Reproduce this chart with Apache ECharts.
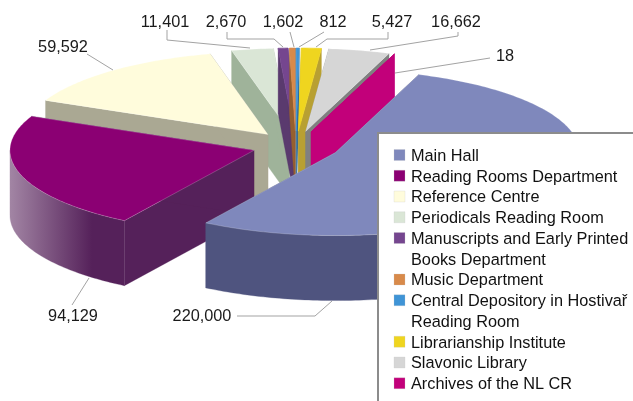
<!DOCTYPE html>
<html>
<head>
<meta charset="utf-8">
<style>html,body{margin:0;padding:0;background:#fff}#main{width:633px;height:401px}</style>
<script src="https://cdn.jsdelivr.net/npm/echarts@6/dist/echarts.min.js"></script>
</head>
<body>
<div id="main"></div>
<script>
// data
const departments = ['Main Hall', 'Reading Rooms Department', 'Reference Centre', 'Periodicals Reading Room',
  'Manuscripts and Early Printed\nBooks Department', 'Music Department', 'Central Depository in Hostivař\nReading Room',
  'Librarianship Institute', 'Slavonic Library', 'Archives of the NL CR'];
const visitors = [220000, 94129, 59592, 11401, 2670, 1602, 812, 5427, 16662, 18];
const topColors = ['#7f88bc', '#8b0073', '#fffcdc', '#dae6d6', '#75468f', '#d88a4a', '#3f94d6', '#efd51f', '#d6d6d6', '#c2007a'];
const wallColors = ['#4f547f', '#55215a', '#aaa893', '#9fb39a', '#5a3a6e', '#96602f', '#2f6a9a', '#b8a032', '#808080', '#c2007a'];
// back to front
const sliceZ = [16, 14, 12, 5, 6, 7, 8, 9, 10, 11];

// pie geometry
const cx = 296, cy = 146, rx = 244, ry = 83, depth = 65, explode = 0.18, startAngle = 20;
const total = visitors.reduce((a, b) => a + b, 0);

var chart = echarts.init(document.getElementById('main'), null, { renderer: 'canvas' });

function rimPoint(a, ox, oy, dy) {
  const r = a * Math.PI / 180;
  return [ox + rx * Math.sin(r), oy - ry * Math.cos(r) + dy];
}

function arcAngles(a0, a1) {
  const out = [];
  const steps = Math.max(2, Math.ceil(a1 - a0));
  for (let s = 0; s <= steps; s++) out.push(a0 + (a1 - a0) * s / steps);
  return out;
}

function lighten(hex) {
  const c = echarts.color.parse(hex);
  return 'rgb(' + [0, 1, 2].map(i => Math.round(c[i] + (255 - c[i]) * 0.45)).join(',') + ')';
}

// one exploded 3d slice: walls first, top face last
function sliceItem(i) {
  const before = visitors.slice(0, i).reduce((a, b) => a + b, 0);
  const a0 = startAngle + before / total * 360;
  const a1 = a0 + visitors[i] / total * 360;
  const mid = (a0 + a1) / 2 * Math.PI / 180;
  const ox = cx + explode * rx * Math.sin(mid);
  const oy = cy - explode * ry * Math.cos(mid);

  const rimTop = arcAngles(a0, a1).map(a => rimPoint(a, ox, oy, 0));

  const wall = wallColors[i];
  const rimFill = new echarts.graphic.LinearGradient(10, 0, 92, 0, [
    { offset: 0, color: lighten(wall) },
    { offset: 1, color: wall }
  ], true);
  const poly = (points, fill, stroke) => ({
    type: 'polygon',
    shape: { points: points },
    style: { fill: fill, stroke: stroke || fill, lineWidth: stroke ? 0.7 : 0.3 }
  });
  const apex = [ox, oy], apexLow = [ox, oy + depth];
  const first = rimTop[0], last = rimTop[rimTop.length - 1];
  const children = [
    poly([apex, first, [first[0], first[1] + depth], apexLow], wall),
    poly([apex, last, [last[0], last[1] + depth], apexLow], wall)
  ];
  // only the front half of the rim can be seen
  const f0 = Math.max(a0, 90), f1 = Math.min(a1, 270);
  if (f1 > f0) {
    const front = arcAngles(f0, f1);
    children.push(poly(
      front.map(a => rimPoint(a, ox, oy, 0)).concat(front.slice().reverse().map(a => rimPoint(a, ox, oy, depth))),
      rimFill
    ));
  }
  const edge = visitors[i] / total > 0.02 ? 'rgba(255,255,255,0.3)' : topColors[i];
  children.push(poly([apex].concat(rimTop), topColors[i], edge));
  return { type: 'group', children: children };
}

// value labels and their leader lines
const labelTexts = ['220,000', '94,129', '59,592', '11,401', '2,670', '1,602', '812', '5,427', '16,662', '18'];
const labelPos = [[202, 317], [73, 316.5], [63, 48], [165, 23], [226, 23], [283, 23], [333, 23], [392, 23], [456, 23], [505, 57]];
const leaders = [
  [[237, 316], [315, 316], [332, 301]],
  [[72, 305], [89, 278]],
  [[87, 54], [113, 70]],
  [[167, 30], [167, 40], [250, 48]],
  [[227, 32], [227, 39], [274, 39], [283, 47]],
  [[290, 32], [294, 47]],
  [[324, 32], [299, 47]],
  [[388, 32], [388, 39], [327, 39], [316, 47]],
  [[458, 32], [458, 36], [370, 50]],
  [[490, 58], [395, 73]]
];

const font = '16.3px "Liberation Sans", Arial, sans-serif';
const graphics = [];
leaders.forEach(pts => graphics.push({
  type: 'polyline', z: 50, shape: { points: pts },
  style: { stroke: '#a3a3a3', lineWidth: 1, fill: null }
}));
labelTexts.forEach((t, i) => graphics.push({
  type: 'text', z: 51, x: labelPos[i][0], y: labelPos[i][1],
  style: { text: t, font: font, fill: '#1a1a1a', align: 'center', verticalAlign: 'middle' }
}));

// legend box runs off the right and bottom of the page
graphics.push({
  type: 'rect', z: 100, shape: { x: 378, y: 133, width: 300, height: 320 },
  style: { fill: '#fff', stroke: '#8c8c8c', lineWidth: 2 }
});
let legendY = 155;
const legendLine = 20.75;
departments.forEach((name, i) => {
  graphics.push({
    type: 'rect', z: 101, shape: { x: 394, y: legendY - 5.5, width: 11, height: 11 },
    style: { fill: topColors[i], stroke: 'rgba(200,200,200,0.5)', lineWidth: 0.5 }
  });
  name.split('\n').forEach(line => {
    graphics.push({
      type: 'text', z: 101, x: 411, y: legendY + 1.5,
      style: { text: line, font: font, fill: '#111', verticalAlign: 'middle' }
    });
    legendY += legendLine;
  });
});

var option = {
  animation: false,
  backgroundColor: '#fff',
  graphic: { elements: graphics },
  series: departments.map((name, i) => ({
    type: 'custom',
    name: name,
    coordinateSystem: 'none',
    silent: true,
    z: sliceZ[i],
    data: [[visitors[i]]],
    renderItem: () => sliceItem(i)
  }))
};

chart.setOption(option);
</script>
</body>
</html>
